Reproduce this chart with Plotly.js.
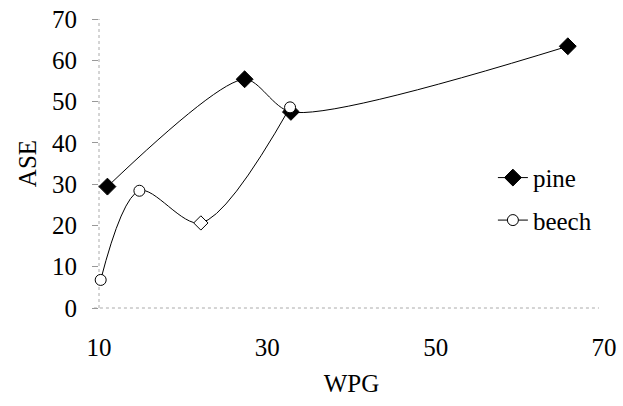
<!DOCTYPE html>
<html>
<head>
<meta charset="utf-8">
<script src="https://cdn.plot.ly/plotly-3.0.1.min.js"></script>
<style>html,body{margin:0;padding:0;background:#fff;}#chart{width:623px;height:406px;}</style>
</head>
<body>
<div id="chart"></div>
<script>
const pineWPG = [11.0, 27.3, 32.8, 65.7];
const pineASE = [29.4, 55.4, 47.5, 63.4];
const beechWPG = [10.2, 14.8, 22.1, 32.7];
const beechASE = [6.8, 28.4, 20.6, 48.6];
const xTicks = [10, 30, 50, 70];
const yTicks = [0, 10, 20, 30, 40, 50, 60, 70];

const font = {family: 'Liberation Serif, serif', size: 25, color: '#000'};

const traces = [
  {
    x: pineWPG, y: pineASE, name: 'pine', type: 'scatter', mode: 'lines+markers',
    legendgroup: 'g1',
    line: {color: '#000', width: 1, shape: 'spline', smoothing: 0.75},
    marker: {symbol: 'diamond', size: 13, color: '#000', line: {color: '#000', width: 1}},
    cliponaxis: false
  },
  {
    x: beechWPG, y: beechASE, name: 'beech', type: 'scatter', mode: 'lines+markers',
    legendgroup: 'g2',
    line: {color: '#000', width: 1, shape: 'spline', smoothing: 0.9},
    marker: {symbol: ['circle', 'circle', 'diamond', 'circle'], size: 11, color: '#fff', line: {color: '#000', width: 1}},
    cliponaxis: false
  }
];

const layout = {
  width: 623, height: 406,
  margin: {l: 99, r: 19, t: 19, b: 98},
  paper_bgcolor: '#fff', plot_bgcolor: '#fff',
  font: font,
  showlegend: true,
  legend: {x: 0.78, y: 0.53, xanchor: 'left', yanchor: 'top', bgcolor: 'rgba(0,0,0,0)', font: font,
           traceorder: 'grouped', tracegroupgap: 7},
  xaxis: {
    range: [10, 70], tickvals: xTicks, ticktext: xTicks.map(String),
    showgrid: false, zeroline: false, showline: false, ticks: '',
    ticklabelstandoff: 22,
    title: {text: 'WPG', font: font, standoff: 14}
  },
  yaxis: {
    range: [0, 70], tickvals: yTicks, ticktext: yTicks.map(String),
    showgrid: false, zeroline: false, showline: false,
    ticks: 'outside', ticklen: 6, tickcolor: '#999', tickwidth: 1,
    ticklabelstandoff: 10,
    title: {text: 'ASE', font: font, standoff: 8}
  },
  shapes: [
    {type: 'line', xref: 'paper', yref: 'paper', x0: 0, x1: 0, y0: 0, y1: 1, line: {color: '#aaa', width: 1, dash: 'dot'}, layer: 'below'},
    {type: 'line', xref: 'paper', yref: 'paper', x0: -0.01, x1: 0.99, y0: 0, y1: 0, line: {color: '#aaa', width: 1, dash: 'dot'}, layer: 'below'}
  ]
};

Plotly.newPlot('chart', traces, layout, {displayModeBar: false, staticPlot: true});
</script>
</body>
</html>
